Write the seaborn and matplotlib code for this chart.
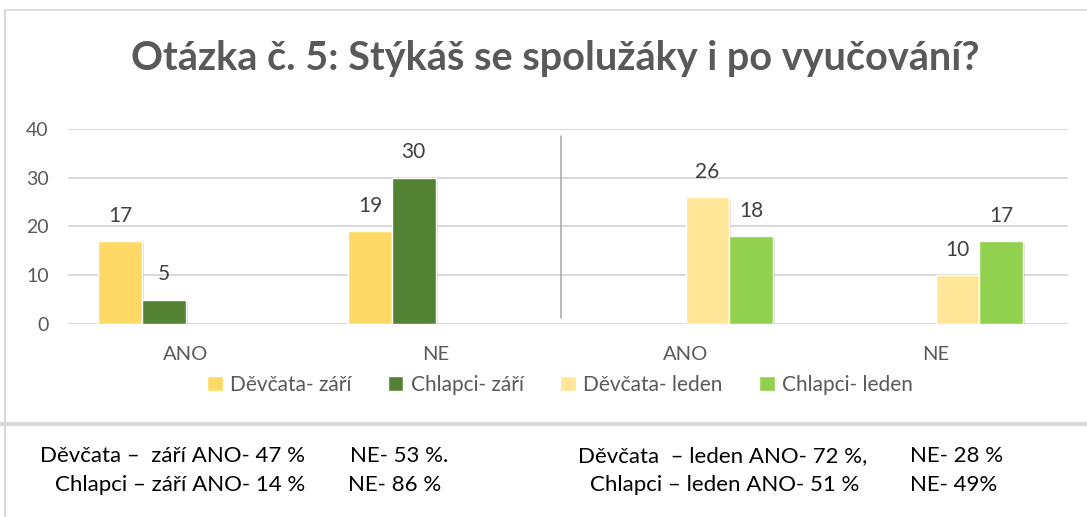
import numpy as np
import pandas as pd
import matplotlib
matplotlib.use("Agg")
import matplotlib.pyplot as plt
import matplotlib.patheffects as pe
from matplotlib.lines import Line2D
import seaborn as sns

# --- data ---
kategorie = ["ANO", "NE", "ANO", "NE"]
obdobi = ["září", "září", "leden", "leden"]
skupiny = ["Děvčata- září", "Chlapci- září", "Děvčata- leden", "Chlapci- leden"]
devcata_zari = [17, 19, None, None]
chlapci_zari = [5, 30, None, None]
devcata_leden = [None, None, 26, 10]
chlapci_leden = [None, None, 18, 17]
barvy = ["#FFD966", "#548235", "#FFE699", "#92D050"]
y_ticky = [0, 10, 20, 30, 40]

nadpis = "Otázka č. 5: Stýkáš se spolužáky i po vyučování?"
souhrn_radek1 = ["Děvčata –  září ANO- 47 %", "NE- 53 %.", "Děvčata  – leden ANO- 72 %,", "NE- 28 %"]
souhrn_radek2 = ["Chlapci – září ANO- 14 %", "NE- 86 %", "Chlapci – leden ANO- 51 %", "NE- 49%"]

# long-form table, empty combinations are skipped
klice = [f"{k} ({o})" for k, o in zip(kategorie, obdobi)]
radky = []
for skupina, hodnoty in zip(skupiny, [devcata_zari, chlapci_zari, devcata_leden, chlapci_leden]):
    for klic, h in zip(klice, hodnoty):
        if h is not None:
            radky.append({"kategorie": klic, "skupina": skupina, "pocet": h})
df = pd.DataFrame(radky)

sns.set_theme(style="white")
plt.rcParams["font.family"] = ["Lato", "DejaVu Sans"]

SEDA = "#595959"
fig = plt.figure(figsize=(10.87, 5.17), dpi=100)
ax = fig.add_axes([0.0626, 0.3733, 0.92, 0.3772])

sns.barplot(data=df, x="kategorie", y="pocet", hue="skupina", order=klice,
            hue_order=skupiny, palette=barvy, width=0.7, errorbar=None,
            saturation=1, ax=ax, zorder=3)

for kont in ax.containers:
    for b in kont:
        b.set_path_effects([pe.SimplePatchShadow(offset=(1.5, -1.5), alpha=0.18), pe.Normal()])
    ax.bar_label(kont, fmt="%d", padding=11, fontsize=15, color="#404040")

ax.set_ylim(0, 40)
ax.set_xlim(-0.47, 3.53)
ax.set_yticks(y_ticky)
ax.set_xticks(range(len(klice)))
ax.set_xticklabels(kategorie)
ax.set_xlabel("")
ax.set_ylabel("")
ax.tick_params(axis="y", length=0, pad=14, labelsize=14, labelcolor=SEDA)
ax.tick_params(axis="x", length=0, pad=16, labelsize=14.5, labelcolor=SEDA)
ax.grid(axis="y", color="#D9D9D9", linewidth=1.4, zorder=0)
ax.grid(axis="x", visible=False)
for s in ax.spines.values():
    s.set_visible(False)

# separator between the two periods
ax.axvline(1.5, ymin=0.03, ymax=0.965, color="#A6A6A6", linewidth=1.1, zorder=2)

handles, labels = ax.get_legend_handles_labels()
ax.legend(handles, labels, loc="center", bbox_to_anchor=(0.515, 0.2553),
          bbox_transform=fig.transFigure, ncol=4, frameon=False,
          handlelength=0.75, handleheight=0.75, handletextpad=0.35,
          columnspacing=1.75, fontsize=15, labelcolor=SEDA)

fig.text(0.5106, 0.8646, nadpis, ha="center", va="baseline",
         fontsize=28.5, fontweight="bold", color=SEDA)

# chart frame and the summary below it
fig.add_artist(Line2D([0.0046, 0.0046], [0.0, 0.9807], transform=fig.transFigure,
                      color="#D9D9D9", linewidth=1.5))
fig.add_artist(Line2D([0.0046, 1.0], [0.9807, 0.9807], transform=fig.transFigure,
                      color="#D9D9D9", linewidth=1.2))
fig.add_artist(Line2D([0.0, 1.0], [0.1799, 0.1799], transform=fig.transFigure,
                      color="#D9D9D9", linewidth=3))

x_sloupce1 = [40, 350, 578, 910]
x_sloupce2 = [55, 348, 590, 910]
for x, t in zip(x_sloupce1, souhrn_radek1):
    fig.text(x / 1087, 1 - 462 / 517, t, ha="left", va="baseline", fontsize=16, color="black")
for x, t in zip(x_sloupce2, souhrn_radek2):
    fig.text(x / 1087, 1 - 491 / 517, t, ha="left", va="baseline", fontsize=16, color="black")

fig.savefig("out.png", dpi=100)
